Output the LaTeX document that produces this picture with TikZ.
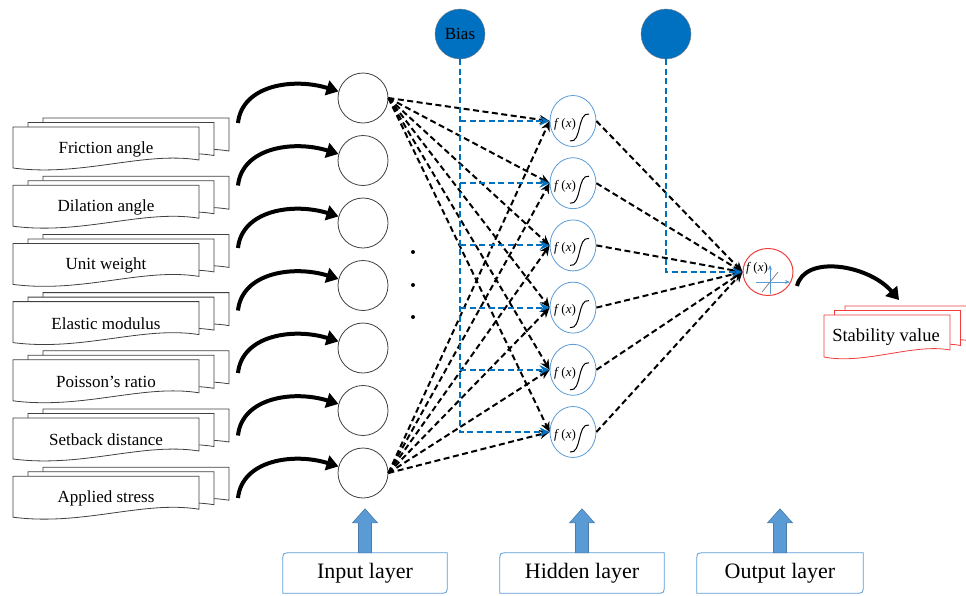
\documentclass[tikz,border=0pt]{standalone}
\usepackage{fontspec}
\setmainfont{Liberation Serif}
\usetikzlibrary{arrows.meta,calc,shapes.geometric}
\definecolor{BiasBlue}{RGB}{0,112,192}
\definecolor{LayerBlue}{RGB}{91,155,213}
\definecolor{OutRed}{RGB}{240,60,60}

\begin{document}
\begin{tikzpicture}[x=1pt,y=-1pt,
  docpage/.style={draw=black!75,fill=white,line width=0.8pt},
  outpage/.style={draw=OutRed,fill=white,line width=0.8pt},
  doclabel/.style={font=\fontsize{17}{20}\selectfont},
  innode/.style={circle,draw=black!75,line width=0.8pt,minimum size=50pt,inner sep=0pt},
  hidnode/.style={ellipse,draw=LayerBlue,line width=0.8pt,minimum width=46pt,minimum height=51pt,inner sep=0pt},
  outnode/.style={ellipse,draw=OutRed,line width=1pt,minimum width=50pt,minimum height=47pt,inner sep=0pt},
  biasnode/.style={circle,draw=black!50,fill=BiasBlue,minimum size=50pt,inner sep=0pt,font=\fontsize{17}{20}\selectfont},
  fxlabel/.style={font=\fontsize{13}{15}\selectfont,inner sep=0pt},
  wire/.style={dash pattern=on 6pt off 3.5pt,line width=2pt,-{Stealth[length=10pt,width=9pt]}},
  biaswire/.style={wire,BiasBlue},
  curvearrow/.style={line width=4pt,-{Triangle[length=12pt,width=15pt]}},
  layerbox/.style={draw=none,minimum height=40pt,font=\fontsize{22}{26}\selectfont},
  layerarrow/.style={draw=LayerBlue!80!black,fill=LayerBlue,line width=0.6pt}
]
  \useasboundingbox (0,0) rectangle (966,595);

  % input parameters
  \foreach \i/\lab in {0/Friction angle,1/Dilation angle,2/Unit weight,3/Elastic modulus,4/Poisson's ratio,5/Setback distance,6/Applied stress}{
    \foreach \d in {30,15,0}{
      \begin{scope}[shift={(13+\d,127+58.2*\i-0.3*\d)}]
        \filldraw[docpage] (0,0) -- (186,0) -- (186,33) .. controls (130,24) and (70,50) .. (0,41) -- cycle;
      \end{scope}
    }
    \node[doclabel] (lab\i) at (106,149+58.2*\i) {\lab};
  }

  % input layer
  \foreach \i in {0,...,6}{
    \node[innode] (in\i) at (363,98+62.5*\i) {};
    \coordinate (t\i) at (238,123+62.5*\i);
    \draw[curvearrow] (t\i) .. controls +(4,-38) and +(-45,-14) .. (in\i.165);
  }
  \foreach \y in {252,285,317}
    \fill (413,\y) circle (2);

  % hidden layer
  \node[outnode] (out) at (768,272) {};
  \foreach \j in {0,...,5}{
    \node[hidnode] (h\j) at (573,121+62.2*\j) {};
    \node[fxlabel] (fx\j) at ($(h\j)+(-8,3)$) {\textit{f}\,(\textit{x})};
    \draw[line width=1pt] ($(h\j)+(-3,20)$) .. controls +(12,2) and +(-12,-2) .. ($(h\j)+(16,-7)$);
    \draw[wire] (in0.east) -- (h\j.west);
    \draw[wire] (in6.east) -- (h\j.west);
    \draw[wire] (h\j.east) -- (out.west);
  }

  % bias
  \node[biasnode] (bias) at (460,34) {Bias};
  \node[biasnode] (obias) at (666,34) {};
  \draw[biaswire] (bias.south) |- (h5.west);
  \foreach \j in {0,...,4}
    \draw[biaswire] (bias.south |- h\j.west) -- (h\j.west);
  \draw[biaswire] (obias.south) |- (out.west);

  % output node
  \node[fxlabel] (fxo) at ($(out)+(-11,-4)$) {\textit{f}\,(\textit{x})};
  \draw[LayerBlue,line width=0.9pt,-{Stealth[length=5pt,width=4pt]}] ($(out)+(-12,10)$) -- ($(out)+(22,10)$);
  \draw[LayerBlue,line width=0.9pt,-{Stealth[length=5pt,width=4pt]}] ($(out)+(2,22)$) -- ($(out)+(2,-7)$);
  \draw[gray,line width=0.8pt] ($(out)+(-6,20)$) -- ($(out)+(10,0)$);

  \foreach \d in {21,10.5,0}{
    \begin{scope}[shift={(824+\d,315-0.43*\d)}]
      \filldraw[outpage] (0,0) -- (126,0) -- (126,35) .. controls (90,28) and (40,50) .. (0,42) -- cycle;
    \end{scope}
  }
  \node[font=\fontsize{18.5}{22}\selectfont] (stab) at (886,337) {Stability value};
  \coordinate (otail) at (797,286);
  \coordinate (otip) at (899,300);
  \draw[curvearrow] (otail) .. controls +(8,-32) and +(-30,-35) .. (otip);

  % layer captions
  \node[layerbox,minimum width=164pt] (inlay) at (365,573) {Input layer};
  \node[layerbox,minimum width=164pt] (hidlay) at (582,573) {Hidden layer};
  \node[layerbox,minimum width=166pt] (outlay) at (780,573) {Output layer};
  \foreach \b in {inlay,hidlay,outlay}{
    \draw[LayerBlue,line width=0.8pt] (\b.south west) -- ([yshift=-8pt]\b.north west) .. controls (\b.north west) .. ([xshift=8pt]\b.north west)
      -- (\b.north east) -- ([yshift=8pt]\b.south east) .. controls (\b.south east) .. ([xshift=-8pt]\b.south east) -- cycle;
    \filldraw[layerarrow] ([xshift=-6.5pt]\b.north) -- ++(0,-30) -- ++(-6,0) -- ++(12.5,-14) -- ++(12.5,14) -- ++(-6,0) -- ++(0,30) -- cycle;
  }
\end{tikzpicture}
\end{document}
